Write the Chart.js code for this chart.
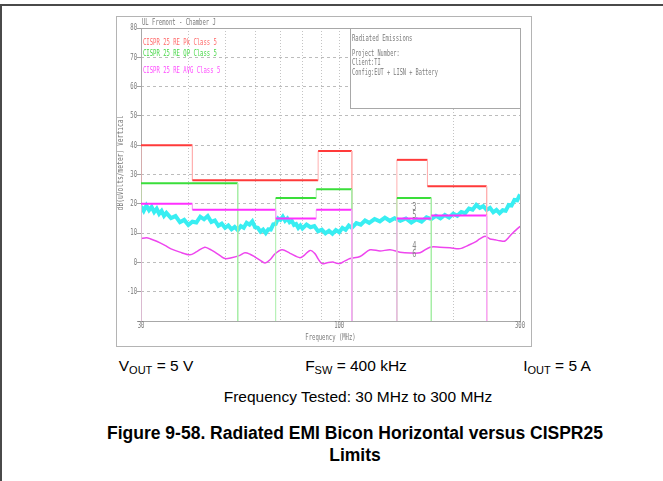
<!DOCTYPE html>
<html>
<head>
<meta charset="utf-8">
<script src="https://cdn.jsdelivr.net/npm/chart.js@4"></script>
<style>
    body { margin: 0; width: 663px; height: 481px; background: #fff; position: relative; overflow: hidden;
           font-family: "Liberation Sans", Arial, sans-serif; color: #000; }
    #topLine { position: absolute; left: 0; top: 4px; width: 663px; height: 2px; background: #4a4a4a; }
    #leftLine { position: absolute; left: 0; top: 4px; width: 2px; height: 477px; background: #4a4a4a; }
    #frame { position: absolute; left: 116px; top: 16px; width: 416px; height: 331px; box-sizing: border-box;
             border: 1px solid #b4b4b4; }
    #frame canvas { position: absolute; left: 0; top: 0; }
    .txt { position: absolute; white-space: nowrap; line-height: 16px; }
    .param { font-size: 15.5px; top: 358px; transform: translateX(-50%); }
    .param sub { font-size: 11px; vertical-align: -3px; line-height: 0; }
    #tested { font-size: 15.5px; top: 389px; left: 358px; transform: translateX(-50%); }
    .caption { font-size: 17.5px; font-weight: bold; left: 355px; transform: translateX(-50%); line-height: 20px; }
</style>
</head>
<body>
<div id="topLine"></div>
<div id="leftLine"></div>
<div id="frame"><canvas id="emiChart" width="414" height="329"></canvas></div>
<div class="txt param" style="left:156px">V<sub>OUT</sub> = 5 V</div>
<div class="txt param" style="left:356px">F<sub>SW</sub> = 400 kHz</div>
<div class="txt param" style="left:557px">I<sub>OUT</sub> = 5 A</div>
<div class="txt" id="tested">Frequency Tested: 30 MHz to 300 MHz</div>
<div class="txt caption" style="top:423px">Figure 9-58. Radiated EMI Bicon Horizontal versus CISPR25</div>
<div class="txt caption" style="top:445px">Limits</div>

<script>
// CISPR 25 class 5 limit lines (MHz, dBuV/m), null breaks the line
const pkFreq  = [30, 30, 41, 41, 88, 88, 108, 108, 120, 142, 142, 171, 171, 245, 245];
const pkLevel = [-20, 40, 40, 28, 28, 38, 38, -20, null, -20, 35, 35, 26, 26, -20];

const qpFreq  = [30, 30, 54, 54, 60, 68, 68, 87, 87, 108, 108, 120, 142, 142, 175, 175];
const qpLevel = [-20, 27, 27, -20, null, -20, 22, 22, 25, 25, -20, null, -20, 22, 22, -20];

const avgLimFreq  = [30, 30, 41, 41, 68, 68, 87, 87, 108, 108, 120, 142, 142, 175, 175, 245, 245];
const avgLimLevel = [-20, 20, 20, 18, 18, 15, 15, 18, 18, -20, null, -20, 15, 15, 16, 16, -20];

// measured peak trace (cyan)
const peakFreq = [30, 30.5, 31, 31.5, 32, 32.5, 33, 33.5, 34, 34.5, 35, 36, 37, 38, 39, 40, 41, 42, 43, 44,
    45, 46, 47, 48, 49, 50, 51, 52, 53, 54, 55, 56, 57, 58, 59, 60, 61, 62, 63, 64, 65, 66, 67, 68, 69, 70,
    71, 72, 73, 74, 75, 76, 77, 78, 79, 80, 82, 84, 86, 88, 90, 92, 94, 96, 98, 100, 102, 104, 106, 108,
    111, 114, 117, 120, 124, 128, 132, 136, 140, 145, 150, 155, 160, 165, 170, 175, 180, 185, 190, 195,
    200, 205, 210, 215, 220, 225, 230, 235, 240, 245, 250, 255, 260, 265, 270, 275, 280, 285, 290, 295, 300];
const peakLevel = [19.2, 17.6, 19.4, 17.8, 18.9, 17.2, 18.3, 16.6, 17.6, 15.9, 16.9, 15.1, 15.8, 13.7, 14.5,
    12.8, 13.9, 13.6, 15.6, 14.7, 15.8, 13.8, 14.3, 12.5, 13.2, 11.8, 12.6, 11.3, 12.1, 11.0, 12.4, 11.8,
    13.5, 12.9, 14.0, 12.0, 11.8, 10.5, 11.2, 10.0, 11.3, 11.2, 13.0, 13.1, 15.0, 14.5, 15.6, 14.2, 15.0,
    13.7, 14.2, 12.8, 13.1, 11.8, 12.6, 11.6, 12.9, 12.0, 12.4, 10.6, 11.2, 9.9, 10.8, 9.8, 11.0, 10.3,
    11.8, 11.1, 12.6, 11.8, 13.4, 12.9, 14.3, 13.5, 14.8, 14.0, 15.3, 14.2, 15.1, 14.2, 15.0, 13.6, 14.7,
    13.9, 15.4, 14.8, 15.9, 15.0, 16.2, 15.3, 16.6, 15.9, 17.2, 16.8, 18.4, 18.0, 19.6, 18.6, 19.2, 17.9,
    18.6, 17.1, 17.9, 16.8, 17.8, 17.6, 19.6, 19.4, 21.3, 21.2, 23.2];

// measured average trace (magenta)
const avgFreq = [30, 31, 31.7, 33, 34.7, 36, 38, 40.4, 42, 44.2, 45.6, 47, 48.5, 50, 52, 54.7, 56.4, 58.2,
    60, 61.8, 63.7, 65.7, 67.7, 70.7, 74.2, 78.8, 81, 83.8, 86.3, 88, 90.1, 93, 96.3, 98, 100.5, 103.6,
    106.8, 113.5, 120.6, 128.2, 136.2, 144.7, 153.8, 163.4, 173.6, 184.5, 196.1, 208.4, 221.4, 228.2, 235,
    242.6, 250, 257.7, 265.7, 273.9, 280, 285.8, 300];
const avgLevel = [8.1, 8.4, 8.1, 7.2, 5.8, 4.6, 3.5, 2.6, 3.6, 5.2, 4.5, 3.5, 2.3, 1.3, 1.6, 2.4, 3.3, 2.8,
    1.8, 0.8, -0.2, 0.9, 2.9, 4.3, 3.1, 1.6, 2.5, 4.1, 3.0, 1.2, -0.4, -0.1, 0.1, -0.2, -0.4, 0.5, 1.3, 2.0,
    4.3, 3.9, 4.3, 3.5, 3.2, 3.3, 5.2, 5.2, 5.0, 4.7, 6.1, 6.9, 8.0, 8.9, 8.0, 7.7, 7.4, 7.3, 8.5, 9.8, 12.3];

// marker numbers
const markerFreq  = [158, 158, 158, 158];
const markerLevel = [18.8, 16.2, 5.6, 2.7];
const markerText  = ['3', '5', '4', '6'];

const xGridFreqs = [30, 40, 50, 60, 70, 80, 90, 100, 200, 300];
const xLabelFreqs = [30, 100, 300];
const yLabelVals = [80, 70, 60, 50, 40, 30, 20, 10, 0, -10];

const legendItems = [
    {text: 'CISPR 25 RE Pk Class 5', color: '#ff6a6a', dy: 15},
    {text: 'CISPR 25 RE QP Class 5', color: '#4ad84a', dy: 26},
    {text: 'CISPR 25 RE AVG Class 5', color: '#ff4cff', dy: 43}
];
const infoLines = ['Project Number:', 'Client:TI', 'Config:EUT + LISN + Battery'];

function toPoints(freqs, levels) {
    return freqs.map((f, i) => ({x: f, y: levels[i]}));
}

function limitSet(label, freqs, levels, color, faint) {
    return {
        label: label,
        data: toPoints(freqs, levels),
        borderColor: color,
        borderWidth: 2,
        pointRadius: 0,
        spanGaps: false,
        segment: {
            borderColor: ctx => ctx.p0.parsed.x === ctx.p1.parsed.x ? faint : undefined,
            borderWidth: ctx => ctx.p0.parsed.x === ctx.p1.parsed.x ? 1 : undefined
        }
    };
}

const PLOT_FONT = '9px "DejaVu Sans Mono", monospace';

function narrow(ctx, text, x, y, align, color, rot, font, sx) {
    ctx.save();
    ctx.translate(x, y);
    if (rot) ctx.rotate(rot);
    ctx.scale(sx || 0.62, 1);
    ctx.font = font || PLOT_FONT;
    ctx.fillStyle = color;
    ctx.textAlign = align;
    ctx.textBaseline = 'middle';
    ctx.fillText(text, 0, 0);
    ctx.restore();
}

const decor = {
    id: 'decor',
    beforeDatasetsDraw(chart) {
        const {ctx, chartArea: a} = chart;
        ctx.save();
        ctx.strokeStyle = '#a8a8a8';
        ctx.lineWidth = 1;
        ctx.strokeRect(a.left + 0.5, a.top + 0.5, a.right - a.left, a.bottom - a.top);
        // info box
        const bx = a.left + 209, bh = 80;
        ctx.fillStyle = '#fff';
        ctx.fillRect(bx, a.top, a.right - bx, bh);
        ctx.strokeRect(bx + 0.5, a.top + 0.5, a.right - bx, bh);
        ctx.restore();
    },
    afterDraw(chart) {
        const {ctx, chartArea: a, scales} = chart;
        const gray = '#7a7a7a';

        yLabelVals.forEach(v => {
            narrow(ctx, String(v), a.left - 4, scales.y.getPixelForValue(v), 'right', gray);
        });
        xLabelFreqs.forEach(f => {
            narrow(ctx, String(f), scales.x.getPixelForValue(f), a.bottom + 5, 'center', gray);
        });
        narrow(ctx, 'Frequency (MHz)', (a.left + a.right) / 2, a.bottom + 17, 'center', gray);
        narrow(ctx, 'dB(uVolts/meter) Vertical', 4, 146, 'center', gray, -Math.PI / 2, PLOT_FONT, 0.7);
        narrow(ctx, 'UL Fremont - Chamber J', a.left + 1, a.top - 5, 'left', gray);

        legendItems.forEach(item => {
            narrow(ctx, item.text, a.left + 2, a.top + item.dy, 'left', item.color);
        });

        const bx = a.left + 211;
        narrow(ctx, 'Radiated Emissions', bx, a.top + 10.5, 'left', gray);
        infoLines.forEach((t, i) => {
            narrow(ctx, t, bx, a.top + 25.5 + i * 9.5, 'left', gray, 0, '8px "DejaVu Sans Mono", monospace', 0.66);
        });

        markerText.forEach((t, i) => {
            narrow(ctx, t, scales.x.getPixelForValue(markerFreq[i]), scales.y.getPixelForValue(markerLevel[i]),
                'center', '#8a8a8a', 0, '10px "DejaVu Sans Mono", monospace', 0.7);
        });
    }
};

new Chart(document.getElementById('emiChart'), {
    type: 'line',
    data: {
        datasets: [
            limitSet('CISPR 25 RE AVG Class 5', avgLimFreq, avgLimLevel, '#ff30ff', '#f6a8f6'),
            limitSet('CISPR 25 RE QP Class 5', qpFreq, qpLevel, '#3ade3a', '#a8eea8'),
            limitSet('CISPR 25 RE Pk Class 5', pkFreq, pkLevel, '#ff3a3a', '#ffb0b0'),
            {
                label: 'Average',
                data: toPoints(avgFreq, avgLevel),
                borderColor: '#ee46ee',
                borderWidth: 1.5,
                pointRadius: 0,
                tension: 0.3
            },
            {
                label: 'Peak',
                data: toPoints(peakFreq, peakLevel),
                borderColor: '#38eef2',
                borderWidth: 4,
                pointRadius: 0
            }
        ]
    },
    options: {
        responsive: false,
        animation: false,
        devicePixelRatio: 1,
        layout: {padding: {top: 11, right: 11, left: 0, bottom: 0}},
        plugins: {legend: {display: false}, tooltip: {enabled: false}},
        scales: {
            x: {
                type: 'logarithmic',
                min: 30,
                max: 300,
                afterBuildTicks: scale => { scale.ticks = xGridFreqs.map(v => ({value: v})); },
                afterFit: scale => { scale.height = 25; },
                ticks: {display: false},
                grid: {color: '#c4c4c4', lineWidth: 1, drawTicks: false},
                border: {display: false, dash: [1, 2]}
            },
            y: {
                type: 'linear',
                min: -20,
                max: 80,
                afterFit: scale => { scale.width = 24; },
                ticks: {display: false, stepSize: 10},
                grid: {color: '#bcbcbc', lineWidth: 1, drawTicks: true, tickLength: 4,
                       tickColor: '#a0a0a0', tickBorderDash: []},
                border: {display: false, dash: [3, 3]}
            }
        }
    },
    plugins: [decor]
});
</script>
</body>
</html>
